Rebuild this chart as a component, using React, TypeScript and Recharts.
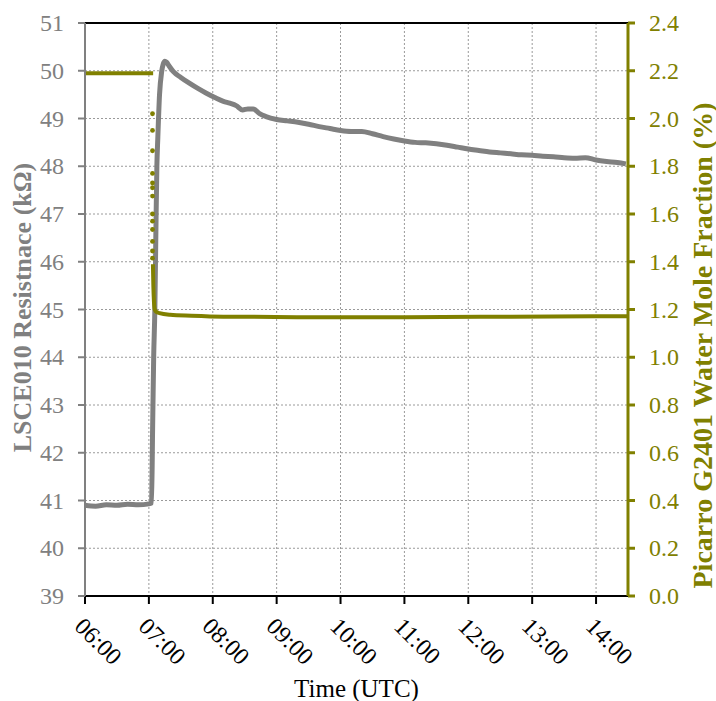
import {
  ComposedChart,
  Line,
  CartesianGrid,
  XAxis,
  YAxis,
  ReferenceLine,
  Label,
} from "recharts";

// minutes after 06:00
const hourTicks = [0, 60, 120, 180, 240, 300, 360, 420, 480];
const hourLabels = ["06:00", "07:00", "08:00", "09:00", "10:00", "11:00", "12:00", "13:00", "14:00"];
const leftTicks = [39, 40, 41, 42, 43, 44, 45, 46, 47, 48, 49, 50, 51];
const rightTicks = [0, 0.2, 0.4, 0.6, 0.8, 1.0, 1.2, 1.4, 1.6, 1.8, 2.0, 2.2, 2.4];

const resistTime = [
  0, 10, 20, 30, 40, 50, 60, 62.5, 63.5, 64.5, 65.6, 66.5, 67.5, 68.4, 70, 72, 73.5, 75, 76.5,
  79, 83, 90, 98, 106, 114, 122, 130, 136, 142, 148, 153, 158, 164, 170, 180, 190,
  200, 210, 220, 230, 240, 250, 260, 270, 280, 290, 300, 310, 320, 330, 340, 350,
  360, 370, 380, 390, 400, 410, 420, 430, 440, 450, 460, 470, 480, 490, 500, 508,
];
const resistValue = [
  40.9, 40.88, 40.91, 40.9, 40.92, 40.91, 40.93, 40.95, 42.5, 44.0, 45.0, 46.5, 48.0, 48.6, 49.5, 49.98, 50.14, 50.2, 50.18,
  50.1, 49.98, 49.86, 49.74, 49.63, 49.53, 49.44, 49.36, 49.32, 49.27, 49.18, 49.2, 49.2, 49.1, 49.04, 48.98, 48.95,
  48.92, 48.88, 48.83, 48.79, 48.75, 48.73, 48.73, 48.68, 48.62, 48.57, 48.53, 48.5, 48.49, 48.47, 48.44, 48.4,
  48.36, 48.33, 48.3, 48.28, 48.26, 48.24, 48.23, 48.21, 48.2, 48.18, 48.17, 48.18, 48.13, 48.1, 48.08, 48.05,
];

const waterTime = [0, 20, 40, 60, 64];
const waterValue = [2.19, 2.19, 2.19, 2.19, 2.19];

const dropTime = [63.4, 63.4, 63.4, 63.4, 63.4, 63.4, 63.4, 63.4, 63.4, 63.4, 63.4, 63.4, 63.4];
const dropValue = [2.02, 1.95, 1.865, 1.77, 1.73, 1.71, 1.675, 1.6, 1.57, 1.535, 1.485, 1.445, 1.415];

const tailTime = [63.8, 64.2, 64.8, 65.5, 67, 70, 80, 100, 130, 200, 300, 400, 480, 510];
const tailValue = [1.39, 1.3, 1.23, 1.2, 1.19, 1.185, 1.178, 1.174, 1.17, 1.168, 1.168, 1.17, 1.172, 1.172];

const resistData = resistTime.map((t, i) => ({ t, r: resistValue[i] }));
const waterData = waterTime.map((t, i) => ({ t, w: waterValue[i] }));
const dropData = dropTime.map((t, i) => ({ t, w: dropValue[i] }));
const tailData = tailTime.map((t, i) => ({ t, w: tailValue[i] }));

const GRAY = "#808080";
const OLIVE = "#808000";
const FONT = "'Liberation Serif', 'Times New Roman', serif";

const XTick = (props: any) => {
  const { x, y, payload } = props;
  const idx = hourTicks.indexOf(payload.value);
  return (
    <text
      x={x - 6}
      y={y + 16}
      transform={`rotate(45, ${x - 6}, ${y + 16})`}
      style={{ fontFamily: FONT }}
      fontSize={24}
      fill="#000"
      textAnchor="start"
      dominantBaseline="central"
    >
      {hourLabels[idx]}
    </text>
  );
};

const YTick = (props: any) => {
  const { x, y, payload, textAnchor, color, fmt, shift } = props;
  return (
    <text
      x={x + shift}
      y={y}
      style={{ fontFamily: FONT }}
      fontSize={24}
      fill={color}
      textAnchor={textAnchor}
      dominantBaseline="central"
    >
      {fmt(payload.value)}
    </text>
  );
};

const LeftTitle = (props: any) => {
  const vb = props.viewBox;
  const cx = vb.x + 22;
  const cy = vb.y + vb.height / 2 - 2;
  return (
    <text
      x={cx}
      y={cy}
      transform={`rotate(-90, ${cx}, ${cy})`}
      textAnchor="middle"
      dominantBaseline="central"
      style={{ fontFamily: FONT }}
      fontWeight="bold"
      fontSize={26}
      fill={GRAY}
    >
      LSCE010 Resistnace (kΩ)
    </text>
  );
};

const RightTitle = (props: any) => {
  const vb = props.viewBox;
  const cx = vb.x + 74;
  const cy = vb.y + vb.height / 2 + 36;
  return (
    <text
      x={cx}
      y={cy}
      transform={`rotate(-90, ${cx}, ${cy})`}
      textAnchor="middle"
      dominantBaseline="central"
      style={{ fontFamily: FONT }}
      fontWeight="bold"
      fontSize={28}
      fill={OLIVE}
    >
      Picarro G2401 Water Mole Fraction (%)
    </text>
  );
};

const BottomTitle = (props: any) => {
  const vb = props.viewBox;
  const cx = vb.x + vb.width / 2;
  return (
    <text
      x={cx}
      y={vb.y + 92}
      textAnchor="middle"
      dominantBaseline="central"
      style={{ fontFamily: FONT }}
      fontSize={25}
      fill="#000"
    >
      Time (UTC)
    </text>
  );
};

export default function App() {
  return (
    <div style={{ position: "absolute", left: 0, top: 0, background: "#fff", fontFamily: FONT }}>
      <ComposedChart
        width={716}
        height={701}
        margin={{ top: 23, right: 0, bottom: 0, left: 0 }}
      >
        <CartesianGrid yAxisId="left" stroke="#9a9a9a" strokeDasharray="2 2" />
        <XAxis
          dataKey="t"
          type="number"
          domain={[0, 510]}
          ticks={hourTicks}
          allowDataOverflow
          height={105}
          stroke="#000"
          strokeWidth={2}
          tickSize={8}
          tick={<XTick />}
          interval={0}
        >
          <Label content={<BottomTitle />} />
        </XAxis>
        <YAxis
          yAxisId="left"
          orientation="left"
          domain={[39, 51]}
          ticks={leftTicks}
          width={85}
          stroke={GRAY}
          strokeWidth={2}
          tickSize={7}
          tickMargin={6}
          interval={0}
          tick={<YTick color={GRAY} shift={-8} fmt={(v: number) => String(v)} />}
          allowDataOverflow
        >
          <Label content={<LeftTitle />} />
        </YAxis>
        <YAxis
          yAxisId="right"
          orientation="right"
          domain={[0, 2.4]}
          ticks={rightTicks}
          width={88}
          stroke={OLIVE}
          strokeWidth={3}
          tickSize={7}
          tickMargin={6}
          interval={0}
          tick={<YTick color={OLIVE} shift={8} fmt={(v: number) => v.toFixed(1)} />}
          allowDataOverflow
        >
          <Label content={<RightTitle />} />
        </YAxis>
        <ReferenceLine yAxisId="left" y={51} stroke="#000" strokeWidth={2} />
        <Line
          yAxisId="left"
          data={resistData}
          dataKey="r"
          type="monotone"
          stroke={GRAY}
          strokeWidth={5}
          dot={false}
          isAnimationActive={false}
        />
        <Line
          yAxisId="right"
          data={waterData}
          dataKey="w"
          type="linear"
          stroke={OLIVE}
          strokeWidth={4}
          dot={false}
          isAnimationActive={false}
        />
        <Line
          yAxisId="right"
          data={dropData}
          dataKey="w"
          stroke="none"
          dot={{ r: 2.4, fill: OLIVE, stroke: "none" }}
          isAnimationActive={false}
        />
        <Line
          yAxisId="right"
          data={tailData}
          dataKey="w"
          type="monotone"
          stroke={OLIVE}
          strokeWidth={4}
          dot={false}
          isAnimationActive={false}
        />
      </ComposedChart>
    </div>
  );
}
